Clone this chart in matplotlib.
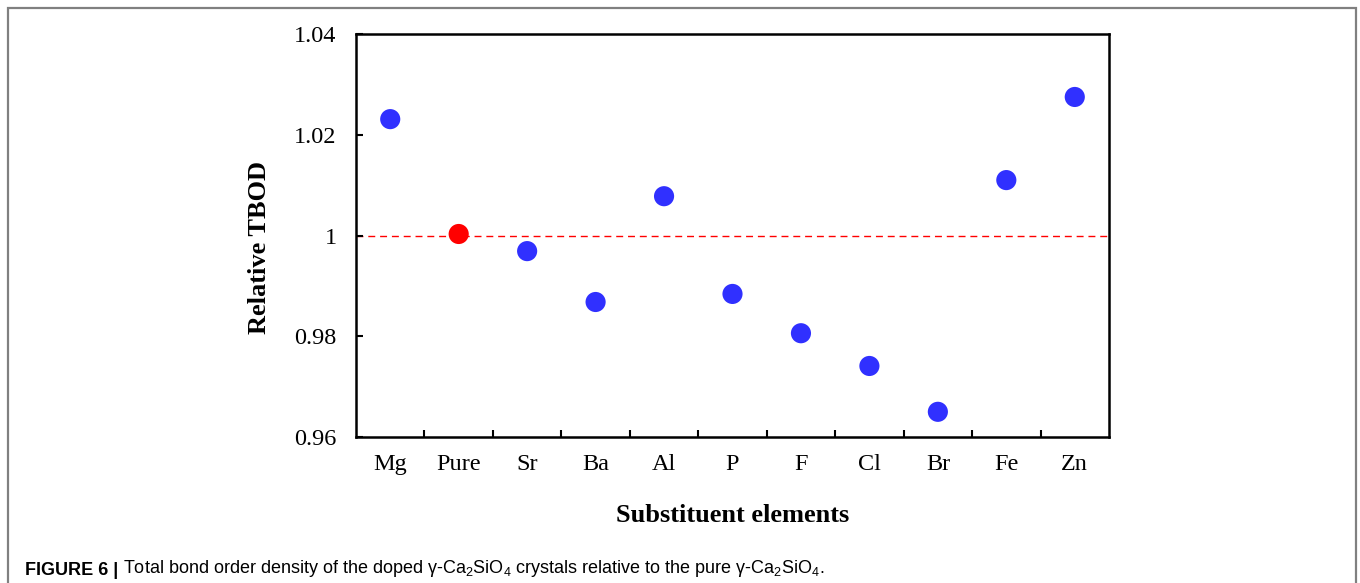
import matplotlib as mpl
mpl.use("Agg")
import matplotlib.pyplot as plt
from matplotlib.patches import Rectangle

elements = ["Mg", "Pure", "Sr", "Ba", "Al", "P", "F", "Cl", "Br", "Fe", "Zn"]
rel_tbod = [1.0231, 1.0003, 0.9969, 0.9868, 1.0078, 0.9884, 0.9806, 0.9741, 0.9650, 1.0110, 1.0275]
reference_name = "Pure"
reference_level = 1.0
y_ticks = [0.96, 0.98, 1.00, 1.02, 1.04]
y_ticklabels = ["0.96", "0.98", "1", "1.02", "1.04"]

serif = ["Liberation Serif", "DejaVu Serif"]
sans = ["Liberation Sans Narrow", "Liberation Sans", "DejaVu Sans"]

mpl.rcParams["mathtext.fontset"] = "custom"
mpl.rcParams["mathtext.rm"] = "Liberation Sans"
mpl.rcParams["mathtext.it"] = "Liberation Sans"

fig = plt.figure(figsize=(13.6, 5.83), dpi=100)

# outer frame, open at the bottom
fig.patches.append(Rectangle((8 / 1360, -0.05), 1348 / 1360, 1 - 8 / 583 + 0.05,
                             transform=fig.transFigure, fill=False,
                             edgecolor="#808080", linewidth=1.6))

ax = fig.add_axes([356 / 1360, 1 - 437 / 583, 753 / 1360, 403 / 583])

x = list(range(len(elements)))
colors = ["#ff0000" if e == reference_name else "#3030ff" for e in elements]
ax.axhline(reference_level, color="#ff0000", linewidth=1.0, dashes=(5, 3.5), zorder=1)
ax.scatter(x, rel_tbod, s=14.5 ** 2, c=colors, edgecolors="none", zorder=3)

ax.set_xlim(-0.5, len(elements) - 0.5)
ax.set_ylim(y_ticks[0], y_ticks[-1])

ax.set_xticks([i + 0.5 for i in range(len(elements) - 1)])
ax.set_xticklabels([])
ax.set_xticks(x, minor=True)
ax.set_xticklabels(elements, minor=True, fontsize=17.5, family=serif)
ax.tick_params(axis="x", which="major", direction="in", length=5, width=1.5)
ax.tick_params(axis="x", which="minor", length=0, pad=12)

ax.set_yticks(y_ticks)
ax.set_yticklabels(y_ticklabels, fontsize=17.5, family=serif)
ax.tick_params(axis="y", direction="in", length=5, width=1.5, pad=14)

for s in ax.spines.values():
    s.set_linewidth(1.8)

ax.set_ylabel("Relative TBOD", fontsize=19, fontweight="bold", family=serif)
ax.yaxis.set_label_coords(-0.113, 0.469)
ax.set_xlabel("Substituent elements", fontsize=19, fontweight="bold", family=serif, labelpad=21)

t1 = fig.text(25 / 1360, 1 - 575 / 583, "FIGURE 6 |", fontsize=13,
              fontweight="bold", family=sans, va="baseline")
ax.annotate(" Total bond order density of the doped γ-Ca$_2$SiO$_4$ crystals "
            "relative to the pure γ-Ca$_2$SiO$_4$.",
            xy=(1, 0), xycoords=t1, va="bottom", ha="left", fontsize=13,
            family=sans, annotation_clip=False)

fig.savefig("out.png", dpi=100)
